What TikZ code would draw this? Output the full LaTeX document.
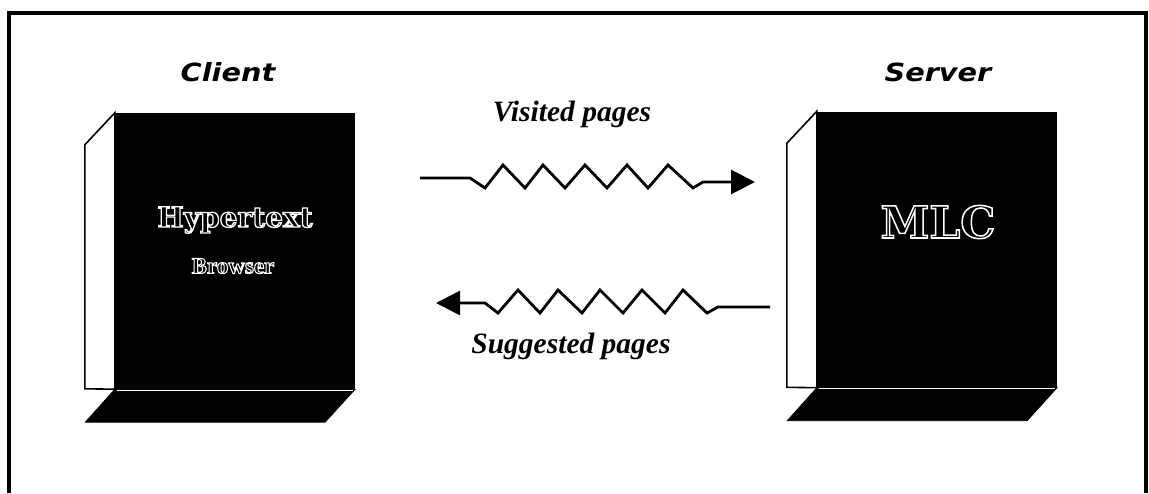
\documentclass[tikz,border=0pt]{standalone}
\usepackage{fontspec}
\usetikzlibrary{arrows.meta}
\newfontfamily\headfont[FakeStretch=1.15]{DejaVu Sans}
\newfontfamily\romanfont{Liberation Serif}
% hollow lettering: glyphs filled black and stroked white
\newfontfamily\hollowslab[FakeBold=4.5]{DejaVu Serif Bold}
\newfontfamily\hollowbig[FakeBold=3.5]{DejaVu Serif Bold}
\newfontfamily\hollowroman[FakeBold=4.5]{Liberation Serif Bold}
\newcommand\hollowtext[1]{\special{pdf:bcolor [0] [1]}#1\special{pdf:ecolor}}
\tikzset{
  frontface/.style={draw=none, fill=black, inner sep=0pt, minimum width=240pt, minimum height=276pt},
  sideface/.style={fill=white, draw=black, line width=1.6pt, line join=miter},
  bottomface/.style={fill=black, draw=black, line width=0.6pt},
  rolelabel/.style={font=\headfont\bfseries\itshape\fontsize{25}{25}\selectfont, inner sep=0pt},
  flowlabel/.style={font=\romanfont\bfseries\itshape\fontsize{29.5}{30}\selectfont, inner sep=0pt},
  wave/.style={line width=2.8pt, line join=miter, line cap=butt,
               -{Triangle[length=24pt,width=24pt]}},
}
\begin{document}
\begin{tikzpicture}[x=1pt, y=-1pt]
  \useasboundingbox (0,0) rectangle (1149,493);
  \fill[white] (0,0) rectangle (1149,493);

  % outer frame, open at the bottom edge
  \draw[line width=4pt, line join=miter] (8.5,493) -- (8.5,12.5) -- (1146,12.5) -- (1146,493);

  % ---------- client book ----------
  \node[frontface] (client) at (235,251) {};
  \draw[sideface] (client.north west) -- ++(-30,32) -- ++(0,244) -- (client.south west) -- cycle;
  \draw[bottomface] (client.south west) -- (client.south east) -- ++(-30,33) -- ++(-240,0) -- cycle;
  \draw[white, line width=1pt] ([xshift=2pt,yshift=-1pt]client.south west) -- ([xshift=-2pt,yshift=-1pt]client.south east);
  \node[inner sep=0pt] (hyper) at (235,220)
    {\hollowslab\fontsize{28}{28}\selectfont\hollowtext{Hypertext}};
  \node[inner sep=0pt] (browser) at (233,266)
    {\hollowroman\fontsize{23}{23}\selectfont\hollowtext{Browser}};
  \node[rolelabel] (clientlabel) at (228,72) {Client};

  % ---------- server book ----------
  \node[frontface] (server) at (937,249.5) {};
  \draw[sideface] (server.north west) -- ++(-30,32) -- ++(0,244) -- (server.south west) -- cycle;
  \draw[bottomface] (server.south west) -- (server.south east) -- ++(-30,33) -- ++(-240,0) -- cycle;
  \draw[white, line width=1pt] ([xshift=2pt,yshift=-1pt]server.south west) -- ([xshift=-2pt,yshift=-1pt]server.south east);
  \node[inner sep=0pt] (mlc) at (938,222)
    {\hollowbig\fontsize{44}{44}\selectfont\hollowtext{MLC}};
  \node[rolelabel] (serverlabel) at (938,72) {Server};

  % ---------- message flows ----------
  \coordinate (vstart) at (420,178);
  \coordinate (vend) at (755,182);
  \draw[wave] (vstart) -- (470,178) -- (485,188) -- (503,165) -- (525,188) -- (543,165)
    -- (565,188) -- (585,165) -- (607,188) -- (627,165) -- (648,188) -- (668,165)
    -- (693,188) -- (703,182) -- (vend);
  \node[flowlabel] (visited) at (572,114) {Visited pages};

  \coordinate (sstart) at (770,307);
  \coordinate (send) at (436,303);
  \draw[wave] (sstart) -- (718,307) -- (707,313) -- (683,290) -- (665,313) -- (642,290)
    -- (623,313) -- (600,290) -- (582,313) -- (558,290) -- (540,313) -- (518,290)
    -- (498,313) -- (485,303) -- (send);
  \node[flowlabel] (suggested) at (571,346) {Suggested pages};
\end{tikzpicture}
\end{document}
